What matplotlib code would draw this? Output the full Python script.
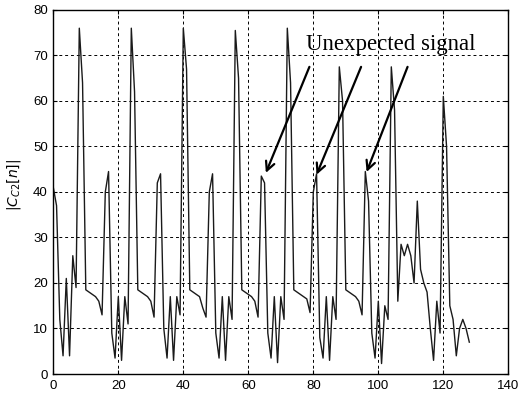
import matplotlib
matplotlib.use("Agg")
import matplotlib.pyplot as plt

# sample index n
n = list(range(0, 129))
# |C_C2[n]| values
values = [
    41, 37, 12, 4, 21, 4, 26, 19,
    76, 64, 18.5, 18, 17.5, 17, 16, 13, 40, 44.5, 9, 3.5, 17, 3, 17, 11,
    76, 62, 18.5, 18, 17.5, 17, 16, 12.5, 42, 44, 10, 3.5, 17, 3, 17, 13,
    76, 67, 18.5, 18, 17.5, 17, 14.5, 12.5, 40, 44, 9, 3.5, 17, 3, 17, 12,
    75.5, 65, 18.5, 18, 17.5, 17, 16, 12.5, 43.5, 42, 9, 3.5, 17, 2.5, 17, 12,
    76, 64, 18.5, 18, 17.5, 17, 16.5, 13.5, 40, 44, 8, 3.5, 17, 3, 17, 12,
    67.5, 60, 18.5, 18, 17.5, 17, 16, 13, 44.5, 38, 9, 3.5, 16, 2.3, 15, 12,
    67.5, 58, 16, 28.5, 26, 28.5, 26, 20, 38, 23, 20, 18, 10, 3, 16, 9,
    61, 50, 15, 12, 4, 10, 12, 10, 7,
]

xticks = [0, 20, 40, 60, 80, 100, 120, 140]
yticks = [0, 10, 20, 30, 40, 50, 60, 70, 80]

annot_text = "Unexpected signal"
arrow_tails = [(78.8, 67.5), (94.7, 67.5), (109.0, 67.5)]
arrow_heads = [(65.4, 44.2), (81.0, 43.8), (96.4, 44.4)]

fig = plt.figure(figsize=(5.19, 3.98), dpi=100)
ax = fig.add_axes([0.1027, 0.0603, 0.8767, 0.9146])

ax.plot(n, values, color="#1a1a1a", lw=1.0)

ax.set_xlim(0, 140)
ax.set_ylim(0, 80)
ax.set_xticks(xticks)
ax.set_yticks(yticks)
ax.grid(True, color="black", linestyle=(0, (3, 3)), linewidth=0.7)
ax.tick_params(direction="in", length=3, top=True, right=True,
               labelsize=9.5, pad=4)
for lbl in ax.get_xticklabels() + ax.get_yticklabels():
    lbl.set_family("Liberation Sans")
for s in ax.spines.values():
    s.set_linewidth(1.0)
    s.set_color("black")

ax.set_ylabel(r"$|C_{C2}[n]|$", fontsize=10)
ax.yaxis.set_label_coords(-0.066, 0.52)

ax.text(77.8, 71.2, annot_text, family="Liberation Serif", fontsize=16.5,
        ha="left", va="baseline", color="black")
for tail, head in zip(arrow_tails, arrow_heads):
    ax.annotate("", xy=head, xytext=tail,
                arrowprops=dict(arrowstyle="->", lw=1.6, color="black",
                                mutation_scale=16, shrinkA=0, shrinkB=0))

fig.savefig("out.png", dpi=100)
